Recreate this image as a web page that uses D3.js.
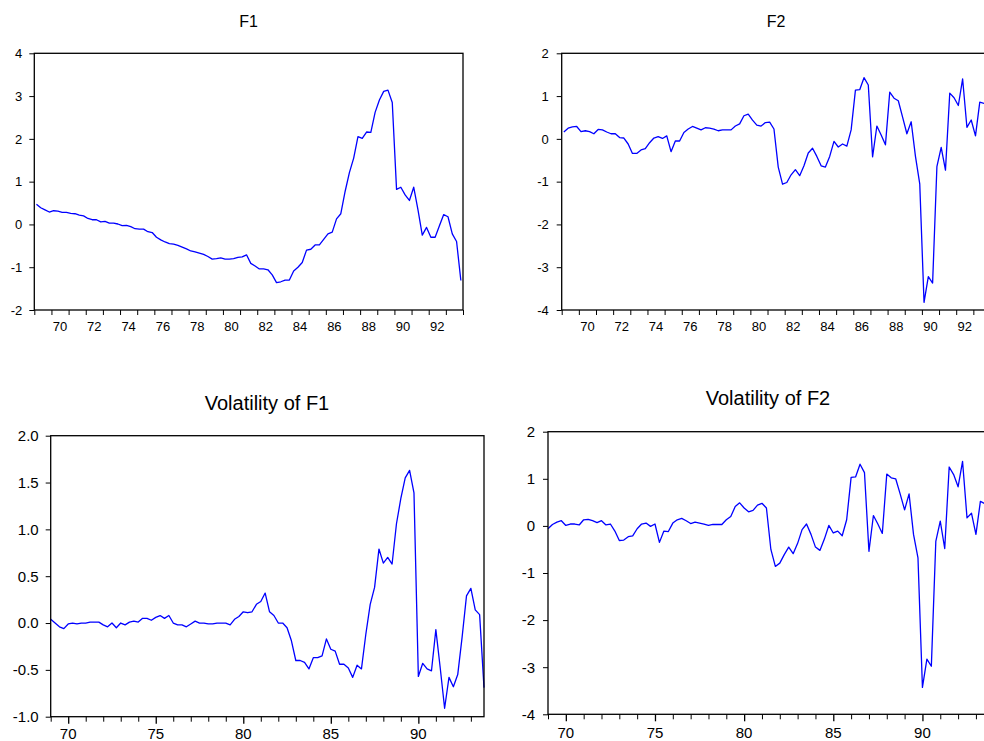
<!DOCTYPE html>
<html>
<head>
<meta charset="utf-8">
<script src="https://cdn.jsdelivr.net/npm/d3@7"></script>
<style>
html, body { margin: 0; padding: 0; background: #fff; overflow: hidden; }
svg { display: block; }
text { font-family: "Liberation Sans", Arial, sans-serif; fill: #000; }
</style>
</head>
<body>
<svg id="chart" width="1000" height="741"></svg>
<script>
// ---- data (quarterly, 1969Q1 .. 1993Q4) ----
const startYear = 1969;
const f1 = [0.47,0.39,0.34,0.29,0.32,0.31,0.28,0.28,0.26,0.25,
  0.22,0.20,0.14,0.11,0.11,0.06,0.07,0.03,0.03,0.01,
  -0.03,-0.02,-0.05,-0.10,-0.11,-0.11,-0.17,-0.19,-0.30,-0.36,
  -0.41,-0.45,-0.46,-0.49,-0.53,-0.57,-0.62,-0.64,-0.67,-0.70,
  -0.75,-0.81,-0.80,-0.78,-0.81,-0.81,-0.80,-0.77,-0.76,-0.71,
  -0.91,-0.97,-1.04,-1.04,-1.06,-1.18,-1.36,-1.34,-1.30,-1.30,
  -1.09,-1.00,-0.89,-0.60,-0.58,-0.48,-0.48,-0.35,-0.22,-0.18,
  0.13,0.25,0.77,1.21,1.55,2.05,2.01,2.16,2.15,2.62,
  2.91,3.11,3.14,2.85,0.82,0.87,0.69,0.56,0.87,0.34,
  -0.25,-0.07,-0.30,-0.30,-0.03,0.23,0.18,-0.22,-0.40,-1.31];
const f2 = [0.16,0.25,0.28,0.29,0.17,0.19,0.17,0.12,0.22,0.21,
  0.16,0.12,0.12,0.03,0.02,-0.12,-0.34,-0.34,-0.26,-0.23,
  -0.09,0.02,0.05,0.01,0.07,-0.30,-0.05,-0.05,0.15,0.23,
  0.29,0.25,0.21,0.26,0.25,0.23,0.19,0.21,0.21,0.21,
  0.30,0.35,0.54,0.58,0.44,0.32,0.30,0.38,0.39,0.23,
  -0.66,-1.06,-1.02,-0.84,-0.72,-0.86,-0.63,-0.33,-0.22,-0.41,
  -0.63,-0.66,-0.41,-0.06,-0.19,-0.12,-0.17,0.21,1.14,1.15,
  1.43,1.26,-0.42,0.30,0.09,-0.14,1.09,0.95,0.89,0.51,
  0.12,0.40,-0.41,-1.05,-3.82,-3.22,-3.37,-0.65,-0.20,-0.73,
  1.07,0.96,0.78,1.40,0.27,0.44,0.07,0.86,0.83,0.70];
const volF1 = [0.04,0.00,-0.04,-0.06,-0.01,0.00,-0.01,0.00,0.00,0.01,
  0.01,0.01,-0.02,-0.04,0.00,-0.05,0.00,-0.02,0.01,0.02,
  0.01,0.05,0.05,0.03,0.06,0.08,0.05,0.08,0.00,-0.02,
  -0.02,-0.04,-0.01,0.02,0.00,0.00,-0.01,-0.01,0.00,0.00,
  0.00,-0.02,0.04,0.07,0.12,0.11,0.12,0.20,0.23,0.32,
  0.12,0.08,0.00,0.00,-0.05,-0.19,-0.40,-0.40,-0.42,-0.49,
  -0.37,-0.37,-0.35,-0.17,-0.28,-0.30,-0.44,-0.44,-0.48,-0.58,
  -0.45,-0.49,-0.12,0.20,0.38,0.79,0.64,0.70,0.63,1.06,
  1.33,1.55,1.63,1.39,-0.57,-0.43,-0.49,-0.51,-0.07,-0.48,
  -0.91,-0.58,-0.68,-0.55,-0.15,0.29,0.37,0.14,0.09,-0.69];
const volF2 = [-0.06,0.03,0.08,0.11,0.01,0.04,0.04,0.02,0.13,0.14,
  0.11,0.07,0.11,0.02,0.04,-0.11,-0.31,-0.30,-0.23,-0.21,
  -0.06,0.04,0.06,-0.01,0.04,-0.35,-0.11,-0.12,0.06,0.13,
  0.16,0.11,0.05,0.08,0.06,0.04,0.01,0.03,0.03,0.03,
  0.13,0.20,0.41,0.49,0.38,0.30,0.33,0.44,0.48,0.38,
  -0.50,-0.86,-0.79,-0.61,-0.45,-0.59,-0.37,-0.08,0.04,-0.18,
  -0.45,-0.52,-0.28,0.01,-0.15,-0.11,-0.21,0.13,1.03,1.04,
  1.31,1.13,-0.54,0.22,0.04,-0.16,1.10,1.02,1.00,0.68,
  0.34,0.68,-0.18,-0.68,-3.43,-2.83,-2.98,-0.33,0.10,-0.48,
  1.25,1.09,0.83,1.37,0.17,0.27,-0.18,0.52,0.47,0.45];

const titles = ["F1", "F2", "Volatility of F1", "Volatility of F2"];
const topXLabels = [70,72,74,76,78,80,82,84,86,88,90,92];
const bottomXLabels = [70,75,80,85,90];
const yTicksF1 = [-2,-1,0,1,2,3,4];
const yTicksF2 = [-4,-3,-2,-1,0,1,2];
const yTicksVolF1 = [-1.0,-0.5,0.0,0.5,1.0,1.5,2.0];
const yTicksVolF2 = [-4,-3,-2,-1,0,1,2];

// ---- layout ----
const panels = [
  {data: f1, title: titles[0], yTicks: yTicksF1, yFmt: d3.format("d"),
   box: {l: 34.3, r: 463, t: 53.3, b: 310}, xDom: [1969, 1994], mid: true,
   titleY: 27, titleSize: 16, tickSize: 13, xLabY: 331, yLabPad: 12, titleX: 248.5},
  {data: f2, title: titles[1], yTicks: yTicksF2, yFmt: d3.format("d"),
   box: {l: 561.7, r: 990.5, t: 53.3, b: 310}, xDom: [1969, 1994], mid: true,
   titleY: 27, titleSize: 16, tickSize: 13, xLabY: 331, yLabPad: 13, titleX: 776},
  {data: volF1, title: titles[2], yTicks: yTicksVolF1, yFmt: d3.format(".1f"),
   box: {l: 50.7, r: 484, t: 435.7, b: 716.7}, xDom: [1969, 1993.75], mid: false,
   titleY: 410, titleSize: 20, tickSize: 15, xLabY: 739, yLabPad: 12, titleX: 267},
  {data: volF2, title: titles[3], yTicks: yTicksVolF2, yFmt: d3.format("d"),
   box: {l: 548, r: 989.3, t: 431.7, b: 714.3}, xDom: [1969, 1993.75], mid: false,
   titleY: 405, titleSize: 20, tickSize: 15, xLabY: 738, yLabPad: 13, titleX: 768}
];

const svg = d3.select("#chart");

panels.forEach(p => {
  const g = svg.append("g");
  const x = d3.scaleLinear().domain(p.xDom).range([p.box.l, p.box.r]);
  const y = d3.scaleLinear().domain(d3.extent(p.yTicks)).range([p.box.b, p.box.t]);

  // title
  g.append("text").attr("x", p.titleX).attr("y", p.titleY)
    .attr("text-anchor", "middle").style("font-size", p.titleSize + "px")
    .text(p.title);

  // y axis
  const yAxis = d3.axisLeft(y).tickValues(p.yTicks).tickSize(5)
    .tickPadding(p.yLabPad - 5).tickFormat(d => (d < 0 ? "-" : "") + p.yFmt(Math.abs(d)));
  const ya = g.append("g").attr("transform", `translate(${p.box.l},0)`).call(yAxis);
  ya.select(".domain").remove();
  ya.selectAll("line").attr("stroke", "#000").attr("stroke-width", 1);
  ya.selectAll("text").style("font-size", p.tickSize + "px")
    .style("font-family", '"Liberation Sans", Arial, sans-serif').attr("fill", "#000");

  // x axis ticks
  const years = d3.range(1969, Math.floor(p.xDom[1]) + 1);
  if (p.mid) {
    const xa = g.append("g").attr("transform", `translate(0,${p.box.b})`)
      .call(d3.axisBottom(x).tickValues(years).tickSize(5).tickFormat(""));
    xa.select(".domain").remove();
    xa.selectAll("line").attr("stroke", "#000");
    g.selectAll(null).data(topXLabels).enter().append("text")
      .attr("x", d => x(1900 + d + 0.5)).attr("y", p.xLabY)
      .attr("text-anchor", "middle").style("font-size", p.tickSize + "px")
      .text(d => d);
  } else {
    const majors = bottomXLabels.map(d => 1900 + d);
    const minors = years.filter(v => !majors.includes(v));
    const xm = g.append("g").attr("transform", `translate(0,${p.box.b})`)
      .call(d3.axisBottom(x).tickValues(minors).tickSize(5).tickFormat(""));
    xm.select(".domain").remove();
    xm.selectAll("line").attr("stroke", "#000");
    const xM = g.append("g").attr("transform", `translate(0,${p.box.b})`)
      .call(d3.axisBottom(x).tickValues(majors).tickSize(7).tickFormat(""));
    xM.select(".domain").remove();
    xM.selectAll("line").attr("stroke", "#000").attr("stroke-width", 1.3);
    g.selectAll(null).data(bottomXLabels).enter().append("text")
      .attr("x", d => x(1900 + d)).attr("y", p.xLabY)
      .attr("text-anchor", "middle").style("font-size", p.tickSize + "px")
      .text(d => d);
  }

  // series line
  const line = d3.line()
    .x((d, i) => x(startYear + (i + (p.mid ? 0.5 : 0)) / 4))
    .y(d => y(d));
  g.append("path").datum(p.data).attr("d", line)
    .attr("fill", "none").attr("stroke", "#0000ff").attr("stroke-width", 1.3)
    .attr("stroke-linejoin", "round");

  // frame
  g.append("rect").attr("x", p.box.l).attr("y", p.box.t)
    .attr("width", p.box.r - p.box.l).attr("height", p.box.b - p.box.t)
    .attr("fill", "none").attr("stroke", "#000").attr("stroke-width", 1.3);
});
</script>
</body>
</html>
